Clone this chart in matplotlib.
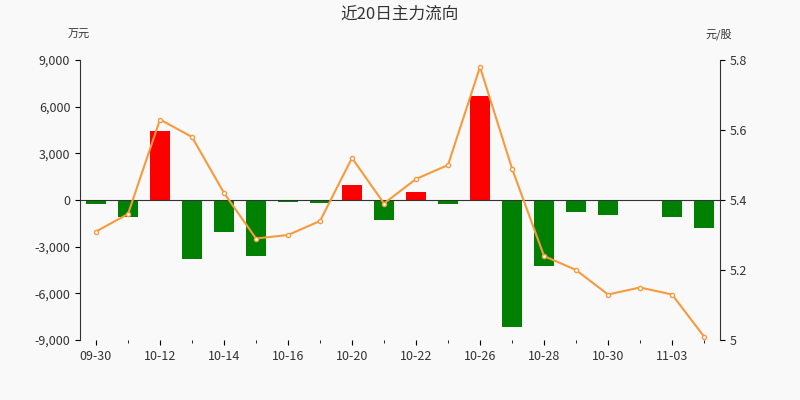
import matplotlib
matplotlib.use("Agg")
import matplotlib.pyplot as plt
import numpy as np

plt.rcParams['font.family'] = ['Noto Sans CJK SC', 'DejaVu Sans']

dates = ["09-30", "10-09", "10-12", "10-13", "10-14", "10-15", "10-16", "10-19", "10-20", "10-21",
         "10-22", "10-23", "10-26", "10-27", "10-28", "10-29", "10-30", "11-02", "11-03", "11-04"]
flow = [-260, -1100, 4430, -3800, -2050, -3600, -130, -200, 960, -1300,
        500, -260, 6680, -8170, -4250, -770, -960, -50, -1100, -1800]
price = [5.31, 5.36, 5.63, 5.58, 5.42, 5.29, 5.30, 5.34, 5.52, 5.39,
         5.46, 5.50, 5.78, 5.49, 5.24, 5.20, 5.13, 5.15, 5.13, 5.01]

fig = plt.figure(figsize=(8, 4), dpi=100)
fig.patch.set_facecolor("#f9f9f9")
ax = fig.add_axes([0.1, 0.15, 0.8, 0.7])
ax.set_facecolor("#f9f9f9")
x = np.arange(len(dates))
colors = ["#ff0000" if v > 0 else "#008000" for v in flow]
ax.bar(x, flow, width=0.65, color=colors, zorder=2)
ax.axhline(0, color="#333333", linewidth=0.8, zorder=3)
ax.set_ylim(-9000, 9000)
ax.set_yticks(range(-9000, 9001, 3000))
ax.set_yticklabels([f"{v:,}" for v in range(-9000, 9001, 3000)], fontsize=9, color="#333")
ax.set_xlim(-0.5, len(dates) - 0.5)
ax.set_xticks(x[::2])
ax.set_xticklabels([dates[i] for i in [0, 2, 4, 6, 8, 10, 12, 14, 16, 18]], fontsize=9, color="#333")
ax.set_xticks(x[1::2] + 0.0, minor=True)
for s in ("top", "right"):
    ax.spines[s].set_visible(False)
ax.spines["bottom"].set_visible(False)
ax.spines["left"].set_color("#333")

ax2 = ax.twinx()
ax2.plot(x, price, color="#f79a3e", linewidth=1.5, marker="o", markersize=3,
         markerfacecolor="white", markeredgecolor="#f79a3e", zorder=4)
ax2.set_ylim(5.0, 5.8)
ax2.set_yticks([5.0, 5.2, 5.4, 5.6, 5.8])
ax2.set_yticklabels(["5", "5.2", "5.4", "5.6", "5.8"], fontsize=9, color="#333")
for s in ("top", "left", "bottom"):
    ax2.spines[s].set_visible(False)
ax2.spines["right"].set_color("#333")

fig.text(0.5, 0.965, "近20日主力流向", ha="center", va="center", fontsize=12, color="#333")
fig.text(0.085, 0.905, "万元", fontsize=8, color="#333")
fig.text(0.882, 0.905, "元/股", fontsize=8, color="#333")
fig.savefig("out.png", facecolor=fig.get_facecolor())
